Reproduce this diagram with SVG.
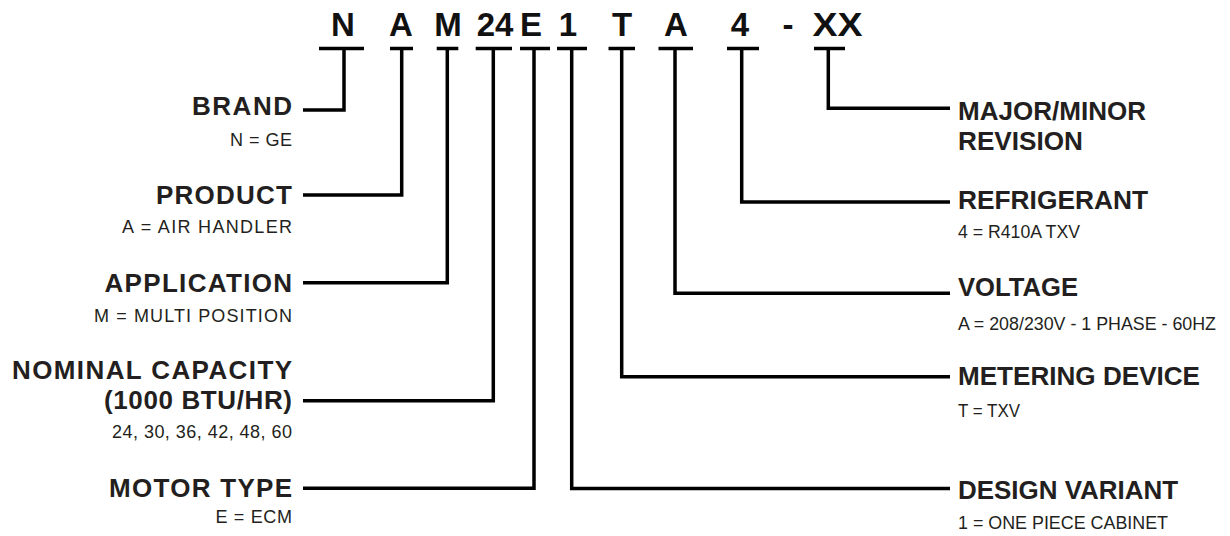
<svg xmlns="http://www.w3.org/2000/svg" width="1230" height="536" viewBox="0 0 1230 536">
<style>
.code{font-family:"Liberation Sans",Arial,sans-serif;font-weight:bold;font-size:33px;fill:#111;text-anchor:middle}
.h{font-family:"Liberation Sans",Arial,sans-serif;font-weight:bold;font-size:26px;fill:#231f20}
.s{font-family:"Liberation Sans",Arial,sans-serif;font-size:18px;fill:#231f20}
.l{text-anchor:end}
.conn{fill:none;stroke:#000;stroke-width:3.5;stroke-linejoin:miter;stroke-linecap:butt}
</style>
<rect width="1230" height="536" fill="#fff"/>
<g id="code">
<text class="code" x="343" y="36">N</text>
<text class="code" x="401" y="36">A</text>
<text class="code" x="448" y="36">M</text>
<text class="code" x="495" y="36">24</text>
<text class="code" x="531" y="36">E</text>
<text class="code" x="568" y="36">1</text>
<text class="code" x="622" y="36">T</text>
<text class="code" x="676" y="36">A</text>
<text class="code" x="740" y="36">4</text>
<text class="code" x="788" y="36">-</text>
<text class="code" x="837.5" y="36" textLength="50" lengthAdjust="spacingAndGlyphs">XX</text>
</g>
<g id="connectors" class="conn">
<path d="M319 48.5H364M344 48.5V110H303"/>
<path d="M390 48.5H413M401.7 48.5V195H303"/>
<path d="M436.7 48.5H458.3M447.3 48.5V282.7H303"/>
<path d="M475.7 48.5H512M493.3 48.5V400.7H303"/>
<path d="M520 48.5H550M534 48.5V488.3H303"/>
<path d="M557 48.5H587M571.7 48.5V488.5H950"/>
<path d="M608.5 48.5H635M621.7 48.5V376.7H950"/>
<path d="M658.5 48.5H693M675 48.5V293.3H950"/>
<path d="M727 48.5H759M741.7 48.5V202H950"/>
<path d="M814 48.5H845M828.3 48.5V108.3H950"/>
</g>
<g id="brand">
<text class="h l" x="292" y="115" textLength="100">BRAND</text>
<text class="s l" x="292" y="145.5" textLength="62">N = GE</text>
</g>
<g id="product">
<text class="h l" x="292" y="204" textLength="136">PRODUCT</text>
<text class="s l" x="292" y="233" textLength="170">A = AIR HANDLER</text>
</g>
<g id="application">
<text class="h l" x="292" y="291.5" textLength="187.5">APPLICATION</text>
<text class="s l" x="292" y="321.5" textLength="198">M = MULTI POSITION</text>
</g>
<g id="nominal-capacity">
<text class="h l" x="292" y="379.3" textLength="280">NOMINAL CAPACITY</text>
<text class="h l" x="292" y="408.5" textLength="188">(1000 BTU/HR)</text>
<text class="s l" x="292" y="438.3" textLength="180">24, 30, 36, 42, 48, 60</text>
</g>
<g id="motor-type">
<text class="h l" x="292" y="497.3" textLength="183">MOTOR TYPE</text>
<text class="s l" x="292" y="523.3" textLength="76.5">E = ECM</text>
</g>
<g id="major-minor-revision">
<text class="h" x="958" y="120" textLength="188" lengthAdjust="spacingAndGlyphs">MAJOR/MINOR</text>
<text class="h" x="958" y="150" textLength="125" lengthAdjust="spacingAndGlyphs">REVISION</text>
</g>
<g id="refrigerant">
<text class="h" x="958" y="209" textLength="190" lengthAdjust="spacingAndGlyphs">REFRIGERANT</text>
<text class="s" x="958" y="237.5" textLength="122" lengthAdjust="spacingAndGlyphs">4 = R410A TXV</text>
</g>
<g id="voltage">
<text class="h" x="958" y="296" textLength="120" lengthAdjust="spacingAndGlyphs">VOLTAGE</text>
<text class="s" x="958" y="330" textLength="258" lengthAdjust="spacingAndGlyphs">A = 208/230V - 1 PHASE - 60HZ</text>
</g>
<g id="metering-device">
<text class="h" x="958" y="385" textLength="242" lengthAdjust="spacingAndGlyphs">METERING DEVICE</text>
<text class="s" x="958" y="416.7" textLength="62" lengthAdjust="spacingAndGlyphs">T = TXV</text>
</g>
<g id="design-variant">
<text class="h" x="958" y="498.5" textLength="220" lengthAdjust="spacingAndGlyphs">DESIGN VARIANT</text>
<text class="s" x="958" y="529" textLength="210" lengthAdjust="spacingAndGlyphs">1 = ONE PIECE CABINET</text>
</g>
</svg>
